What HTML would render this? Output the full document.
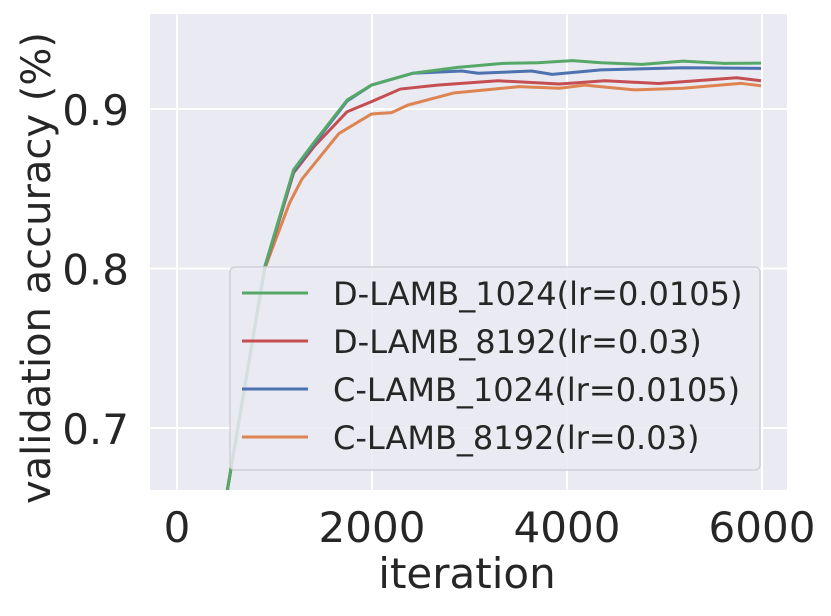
<!DOCTYPE html>
<html><head><meta charset="utf-8"><style>
body{margin:0;background:#fff;}
svg{font-family:"DejaVu Sans","Liberation Sans",sans-serif;}
</style></head><body>
<svg id="chart" width="831" height="611">
<defs><clipPath id="plotclip"><rect x="150" y="14" width="637" height="476"/></clipPath></defs>
<rect x="150" y="14" width="637" height="476" fill="#eaeaf2"/>
<g id="grid"></g>
<g id="series" clip-path="url(#plotclip)"></g>
<g id="ticks"></g>
<text x="467" y="588" font-size="42" text-anchor="middle" fill="#262626">iteration</text>
<text transform="translate(50,268) rotate(-90)" font-size="40" text-anchor="middle" fill="#262626">validation accuracy (%)</text>
<g id="legend"></g>
</svg>
<script>
const xTicks=[0,2000,4000,6000];
const yTicks=[0.7,0.8,0.9];
const seriesNames=["D-LAMB_1024(lr=0.0105)","D-LAMB_8192(lr=0.03)","C-LAMB_1024(lr=0.0105)","C-LAMB_8192(lr=0.03)"];
const seriesColors=["#55a868","#c44e52","#4c72b0","#dd8452"];
const greenIt=[500,900,1196,1405,1745,1995,2417,2879,3341,3700,4057,4350,4770,5190,5610,5990];
const greenVal=[0.655,0.801,0.862,0.879,0.9056,0.915,0.9224,0.9261,0.9286,0.929,0.9303,0.929,0.928,0.930,0.9286,0.9288];
const redIt=[500,900,1196,1405,1745,1995,2290,2670,3290,3923,4390,4940,5740,5990];
const redVal=[0.655,0.800,0.860,0.8764,0.8983,0.9046,0.9125,0.915,0.9177,0.9157,0.9177,0.916,0.9196,0.9177];
const blueIt=[500,900,1196,1405,1745,1995,2417,2921,3090,3636,3848,4350,5190,5990];
const blueVal=[0.655,0.801,0.861,0.878,0.905,0.915,0.9224,0.9238,0.9224,0.9238,0.9217,0.9245,0.9259,0.9255];
const orangeIt=[500,900,1155,1281,1660,1995,2200,2370,2835,3510,3923,4180,4690,5190,5780,5990];
const orangeVal=[0.655,0.800,0.8412,0.856,0.8846,0.8969,0.8977,0.9025,0.910,0.914,0.913,0.915,0.912,0.913,0.9161,0.9146];
const xs=v=>177+v*0.0975;
const ys=v=>109-(v-0.9)*1595;
const NS="http://www.w3.org/2000/svg";
function mk(t,a,p){const e=document.createElementNS(NS,t);for(const k in a)e.setAttribute(k,a[k]);p.appendChild(e);return e;}
const grid=document.getElementById('grid'),ticks=document.getElementById('ticks');
xTicks.forEach(t=>{
 const l=mk('line',{x1:xs(t),x2:xs(t),y1:14,y2:490,stroke:'#fff','stroke-width':2},grid);
 
 
 const tx=mk('text',{x:xs(t),y:542,'font-size':42,'text-anchor':'middle',fill:'#262626'},ticks);
 tx.textContent=t;
 
 
});
yTicks.forEach(t=>{
 const l=mk('line',{x1:150,x2:787,y1:ys(t),y2:ys(t),stroke:'#fff','stroke-width':2},grid);
 
 
 const tx=mk('text',{x:129,y:ys(t)+16,'font-size':42,'text-anchor':'end',fill:'#262626'},ticks);
 tx.textContent=t.toFixed(1);
 
 
});
const data=[[greenIt,greenVal],[redIt,redVal],[blueIt,blueVal],[orangeIt,orangeVal]];
const sg=document.getElementById('series');
[3,1,2,0].forEach(i=>{
 const [it,v]=data[i];
 const p=mk('polyline',{points:it.map((x,j)=>xs(x)+','+ys(v[j])).join(' '),fill:'none',stroke:seriesColors[i],'stroke-width':3,'stroke-linejoin':'round'},sg);
 
 
});
const lg=document.getElementById('legend');
const box=mk('rect',{x:230,y:267,width:530,height:203,rx:5,fill:'#eaeaf2','fill-opacity':0.85,stroke:'#d0d0d8','stroke-width':1.5},lg);


seriesNames.forEach((n,i)=>{
 const y=300+i*48;
 const l=mk('line',{x1:242,x2:308,y1:y-7,y2:y-7,stroke:seriesColors[i],'stroke-width':3},lg);
 
 
 const t=mk('text',{x:333,y:y+5,'font-size':32,fill:'#262626'},lg);
 t.textContent=n;
 
 
});
</script>
</body></html>
